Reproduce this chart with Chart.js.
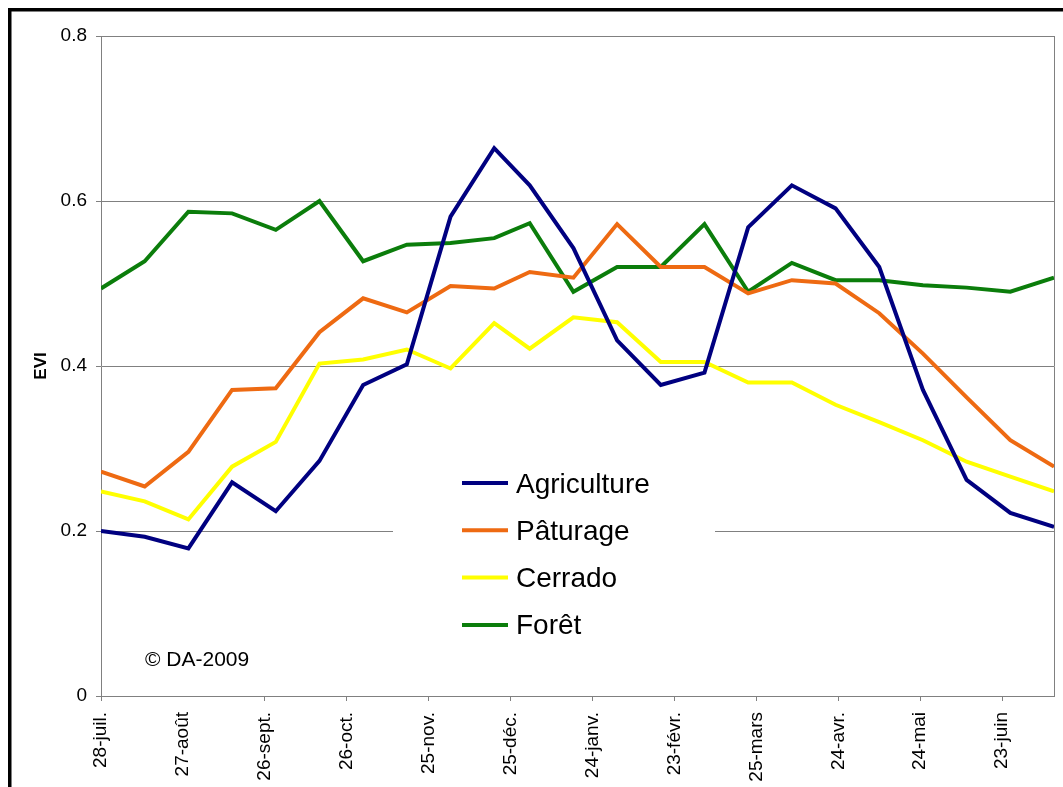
<!DOCTYPE html>
<html>
<head>
<meta charset="utf-8">
<script src="https://cdn.jsdelivr.net/npm/chart.js@4.4.1/dist/chart.umd.min.js"></script>
<style>
  html, body { margin: 0; padding: 0; background: #ffffff; }
  canvas { display: block; }
</style>
</head>
<body>
<canvas id="c" width="1063" height="787"></canvas>
<script>
// ---- Data ----
// Day offsets from 28 July of each 16-day composite (reset on 1 January)
const dayOffsets = [0, 16, 32, 48, 64, 80, 96, 112, 128, 144, 157, 173, 189, 205, 221, 237, 253, 269, 285, 301, 317, 333, 349];

const agriculture = [0.200, 0.193, 0.179, 0.259, 0.224, 0.285, 0.377, 0.402, 0.581, 0.664, 0.619, 0.543, 0.431, 0.377, 0.392, 0.568, 0.619, 0.591, 0.520, 0.371, 0.262, 0.222, 0.205];
const paturage    = [0.272, 0.254, 0.296, 0.371, 0.373, 0.441, 0.482, 0.465, 0.497, 0.494, 0.514, 0.507, 0.572, 0.520, 0.520, 0.488, 0.504, 0.500, 0.464, 0.415, 0.362, 0.310, 0.278];
const cerrado     = [0.248, 0.236, 0.214, 0.278, 0.308, 0.403, 0.408, 0.420, 0.397, 0.452, 0.421, 0.459, 0.453, 0.405, 0.405, 0.380, 0.380, 0.353, 0.332, 0.310, 0.284, 0.266, 0.248];
const foret       = [0.494, 0.527, 0.587, 0.585, 0.565, 0.600, 0.527, 0.547, 0.549, 0.555, 0.573, 0.490, 0.520, 0.520, 0.572, 0.490, 0.525, 0.504, 0.504, 0.498, 0.495, 0.490, 0.507];

const seriesNames = ['Agriculture', 'Pâturage', 'Cerrado', 'Forêt'];

const xTickDays   = [0, 30, 60, 90, 120, 150, 180, 210, 240, 270, 300, 330];
const xTickLabels = ['28-juil.', '27-août', '26-sept.', '26-oct.', '25-nov.', '25-déc.', '24-janv.', '23-févr.', '25-mars', '24-avr.', '24-mai', '23-juin'];
const yTickValues = [0, 0.2, 0.4, 0.6, 0.8];
const yTickLabels = ['0', '0.2', '0.4', '0.6', '0.8'];

const yTitle = 'EVI';
const copyrightText = '© DA-2009';

// ---- Styles ----
const FONT = "'Liberation Sans', Arial, Helvetica, sans-serif";
const colors = ['#000080', '#EE6A12', '#FFFF00', '#0B7D0B'];
const GRID = '#808080';

function toPoints(values) {
  return dayOffsets.map((d, i) => ({ x: d, y: values[i] }));
}

const allSeries = [agriculture, paturage, cerrado, foret];

const datasets = allSeries.map((vals, i) => ({
  label: seriesNames[i],
  data: toPoints(vals),
  borderColor: colors[i],
  backgroundColor: colors[i],
  borderWidth: 4,
  pointRadius: 0,
  pointHoverRadius: 0,
  tension: 0,
  fill: false,
  borderJoinStyle: 'miter',
  order: i === 3 ? 4 : i
}));

const decorPlugin = {
  id: 'decor',
  beforeDraw(chart) {
    const ctx = chart.ctx;
    ctx.save();
    ctx.fillStyle = '#ffffff';
    ctx.fillRect(0, 0, chart.width, chart.height);
    ctx.restore();
  },
  beforeDatasetsDraw(chart) {
    // white legend background inside plot
    const ctx = chart.ctx;
    ctx.save();
    ctx.fillStyle = '#ffffff';
    ctx.fillRect(393, 455, 322, 195);
    ctx.restore();
  },
  afterDraw(chart) {
    const ctx = chart.ctx;
    const a = chart.chartArea;
    ctx.save();
    // right border of the plot
    ctx.strokeStyle = GRID;
    ctx.lineWidth = 1;
    ctx.beginPath();
    ctx.moveTo(Math.round(a.right) + 0.5, Math.round(a.top));
    ctx.lineTo(Math.round(a.right) + 0.5, Math.round(a.bottom) + 1);
    ctx.stroke();

    // legend
    const lx0 = 462, lx1 = 508, tx = 516;
    const y0 = 483, dy = 47.3;
    ctx.font = '28px ' + FONT;
    ctx.textBaseline = 'alphabetic';
    ctx.textAlign = 'left';
    chart.data.datasets.forEach((ds, i) => {
      const y = y0 + i * dy;
      ctx.strokeStyle = ds.borderColor;
      ctx.lineWidth = 4;
      ctx.beginPath();
      ctx.moveTo(lx0, y);
      ctx.lineTo(lx1, y);
      ctx.stroke();
      ctx.fillStyle = '#000000';
      ctx.fillText(ds.label, tx, y + 9.5);
    });

    // copyright
    ctx.font = '21px ' + FONT;
    ctx.fillStyle = '#000000';
    ctx.fillText(copyrightText, 145, 666);

    // outer black frame (left and top visible)
    ctx.fillStyle = '#000000';
    ctx.fillRect(8, 8, chart.width, 3.5);
    ctx.fillRect(8, 8, 3.5, chart.height);
    ctx.restore();
  }
};

new Chart(document.getElementById('c'), {
  type: 'line',
  data: { datasets },
  plugins: [decorPlugin],
  options: {
    responsive: false,
    devicePixelRatio: 1,
    animation: false,
    events: [],
    layout: { padding: { top: 36, right: 9, left: 0, bottom: 0 } },
    plugins: {
      legend: { display: false },
      tooltip: { enabled: false },
      title: { display: false }
    },
    scales: {
      x: {
        type: 'linear',
        min: dayOffsets[0],
        max: dayOffsets[dayOffsets.length - 1],
        afterBuildTicks(scale) {
          scale.ticks = xTickDays.map(v => ({ value: v }));
        },
        afterFit(scale) { scale.height = 91; },
        grid: {
          display: true,
          drawOnChartArea: false,
          drawTicks: true,
          tickLength: 5,
          tickColor: (c) => (c.index === 1 ? 'rgba(0,0,0,0)' : GRID),
          color: GRID
        },
        border: { display: true, color: GRID, width: 1 },
        ticks: {
          autoSkip: false,
          minRotation: 90,
          maxRotation: 90,
          padding: 11,
          color: '#000000',
          font: { family: FONT, size: 19 },
          callback: (value) => {
            const idx = xTickDays.indexOf(value);
            return idx >= 0 ? xTickLabels[idx] : '';
          }
        }
      },
      y: {
        type: 'linear',
        min: yTickValues[0],
        max: yTickValues[yTickValues.length - 1],
        afterBuildTicks(scale) {
          scale.ticks = yTickValues.map(v => ({ value: v }));
        },
        afterFit(scale) { scale.width = 101; },
        grid: {
          color: GRID,
          lineWidth: 1,
          drawTicks: true,
          tickLength: 5,
          tickColor: GRID
        },
        border: { display: true, color: GRID, width: 1 },
        ticks: {
          padding: 9,
          color: '#000000',
          font: { family: FONT, size: 19 },
          callback: (value) => {
            const idx = yTickValues.findIndex(v => Math.abs(v - value) < 1e-9);
            return idx >= 0 ? yTickLabels[idx] : '';
          }
        },
        title: {
          display: true,
          text: yTitle,
          color: '#000000',
          font: { family: FONT, size: 17, weight: 'bold' },
          padding: { top: 31, bottom: 0 }
        }
      }
    }
  }
});
</script>
</body>
</html>
